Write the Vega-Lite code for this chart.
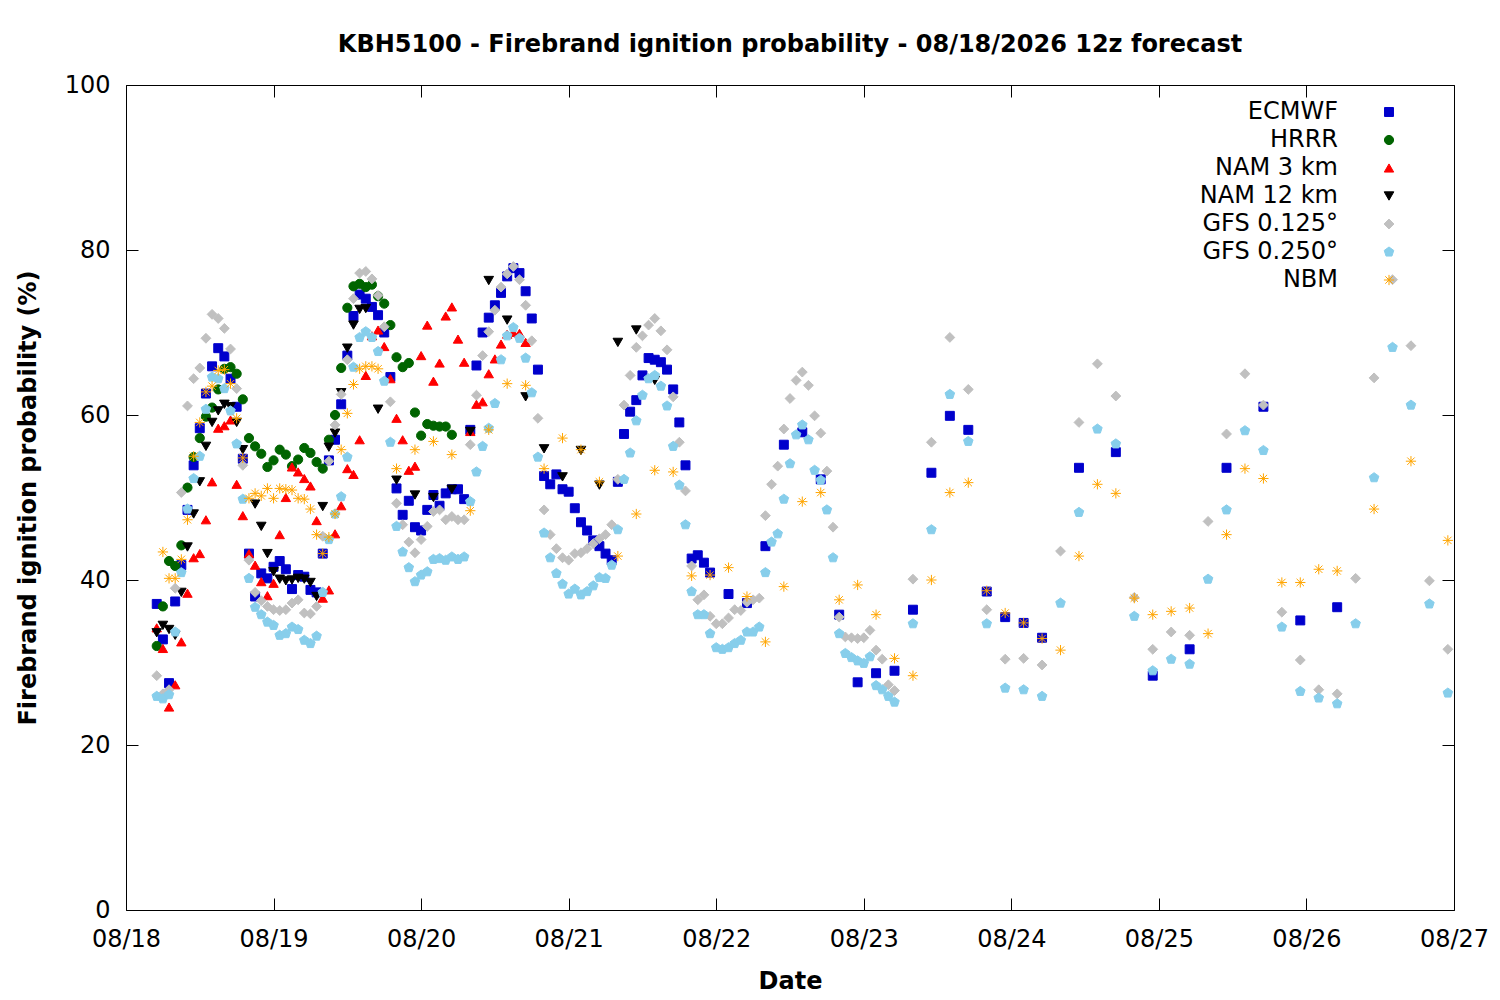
{
"$schema": "https://vega.github.io/schema/vega-lite/v6.json",
"width": 1328, "height": 825,
"autosize": {"type": "none"},
"padding": {"left": 126, "top": 85, "right": 46, "bottom": 90},
"background": "white",
"title": {"text": "KBH5100 - Firebrand ignition probability - 08/18/2026 12z forecast", "font": "DejaVu Sans", "fontSize": 24, "fontWeight": "bold", "color": "black", "anchor": "middle", "frame": "group", "offset": 16},
"datasets": {"pts": [
{"s":"ECMWF","h":5,"p":37.1},{"s":"ECMWF","h":6,"p":32.8},{"s":"ECMWF","h":7,"p":27.5},{"s":"ECMWF","h":8,"p":37.4},{"s":"ECMWF","h":9,"p":41.8},{"s":"ECMWF","h":10,"p":48.5},{"s":"ECMWF","h":11,"p":53.9},{"s":"ECMWF","h":12,"p":58.4},{"s":"ECMWF","h":13,"p":62.6},{"s":"ECMWF","h":14,"p":65.9},{"s":"ECMWF","h":15,"p":68.1},{"s":"ECMWF","h":16,"p":67.1},{"s":"ECMWF","h":17,"p":64.4},{"s":"ECMWF","h":18,"p":61},{"s":"ECMWF","h":19,"p":54.7},{"s":"ECMWF","h":20,"p":43.2},{"s":"ECMWF","h":21,"p":38},{"s":"ECMWF","h":22,"p":40.8},{"s":"ECMWF","h":23,"p":40.2},{"s":"ECMWF","h":24,"p":41.6},{"s":"ECMWF","h":25,"p":42.3},{"s":"ECMWF","h":26,"p":41.3},{"s":"ECMWF","h":27,"p":38.9},{"s":"ECMWF","h":28,"p":40.6},{"s":"ECMWF","h":29,"p":40.4},{"s":"ECMWF","h":30,"p":38.8},{"s":"ECMWF","h":31,"p":38.5},{"s":"ECMWF","h":32,"p":43.2},{"s":"ECMWF","h":33,"p":54.5},{"s":"ECMWF","h":34,"p":57},{"s":"ECMWF","h":35,"p":61.3},{"s":"ECMWF","h":36,"p":67.2},{"s":"ECMWF","h":37,"p":72},{"s":"ECMWF","h":38,"p":74.6},{"s":"ECMWF","h":39,"p":74.1},{"s":"ECMWF","h":40,"p":73.1},{"s":"ECMWF","h":41,"p":72.1},{"s":"ECMWF","h":42,"p":70},{"s":"ECMWF","h":43,"p":64.6},{"s":"ECMWF","h":44,"p":51.1},{"s":"ECMWF","h":45,"p":47.9},{"s":"ECMWF","h":46,"p":49.6},{"s":"ECMWF","h":47,"p":46.4},{"s":"ECMWF","h":48,"p":46},{"s":"ECMWF","h":49,"p":48.5},{"s":"ECMWF","h":50,"p":50.3},{"s":"ECMWF","h":51,"p":49},{"s":"ECMWF","h":52,"p":50.5},{"s":"ECMWF","h":53,"p":51},{"s":"ECMWF","h":54,"p":51},{"s":"ECMWF","h":55,"p":49.8},{"s":"ECMWF","h":56,"p":58.2},{"s":"ECMWF","h":57,"p":66},{"s":"ECMWF","h":58,"p":70},{"s":"ECMWF","h":59,"p":71.8},{"s":"ECMWF","h":60,"p":73.3},{"s":"ECMWF","h":61,"p":74.8},{"s":"ECMWF","h":62,"p":76.8},{"s":"ECMWF","h":63,"p":77.8},{"s":"ECMWF","h":64,"p":77.2},{"s":"ECMWF","h":65,"p":75},{"s":"ECMWF","h":66,"p":71.7},{"s":"ECMWF","h":67,"p":65.5},{"s":"ECMWF","h":68,"p":52.6},{"s":"ECMWF","h":69,"p":51.6},{"s":"ECMWF","h":70,"p":52.8},{"s":"ECMWF","h":71,"p":51},{"s":"ECMWF","h":72,"p":50.7},{"s":"ECMWF","h":73,"p":48.7},{"s":"ECMWF","h":74,"p":47},{"s":"ECMWF","h":75,"p":46},{"s":"ECMWF","h":76,"p":44.8},{"s":"ECMWF","h":77,"p":44.1},{"s":"ECMWF","h":78,"p":43.2},{"s":"ECMWF","h":79,"p":42.4},{"s":"ECMWF","h":80,"p":51.9},{"s":"ECMWF","h":81,"p":57.7},{"s":"ECMWF","h":82,"p":60.4},{"s":"ECMWF","h":83,"p":61.8},{"s":"ECMWF","h":84,"p":64.8},{"s":"ECMWF","h":85,"p":66.9},{"s":"ECMWF","h":86,"p":66.7},{"s":"ECMWF","h":87,"p":66.4},{"s":"ECMWF","h":88,"p":65.5},{"s":"ECMWF","h":89,"p":63.1},{"s":"ECMWF","h":90,"p":59.1},{"s":"ECMWF","h":91,"p":53.9},{"s":"ECMWF","h":92,"p":42.6},{"s":"ECMWF","h":93,"p":43},{"s":"ECMWF","h":94,"p":42.1},{"s":"ECMWF","h":95,"p":40.9},{"s":"ECMWF","h":98,"p":38.3},{"s":"ECMWF","h":101,"p":37.2},{"s":"ECMWF","h":104,"p":44.1},{"s":"ECMWF","h":107,"p":56.4},{"s":"ECMWF","h":110,"p":57.9},{"s":"ECMWF","h":113,"p":52.2},{"s":"ECMWF","h":116,"p":35.8},{"s":"ECMWF","h":119,"p":27.6},{"s":"ECMWF","h":122,"p":28.7},{"s":"ECMWF","h":125,"p":29},{"s":"ECMWF","h":128,"p":36.4},{"s":"ECMWF","h":131,"p":53},{"s":"ECMWF","h":134,"p":59.9},{"s":"ECMWF","h":137,"p":58.2},{"s":"ECMWF","h":140,"p":38.6},{"s":"ECMWF","h":143,"p":35.5},{"s":"ECMWF","h":146,"p":34.8},{"s":"ECMWF","h":149,"p":33},{"s":"ECMWF","h":155,"p":53.6},{"s":"ECMWF","h":161,"p":55.5},{"s":"ECMWF","h":167,"p":28.4},{"s":"ECMWF","h":173,"p":31.6},{"s":"ECMWF","h":179,"p":53.6},{"s":"ECMWF","h":185,"p":61},{"s":"ECMWF","h":191,"p":35.1},{"s":"ECMWF","h":197,"p":36.7},
{"s":"HRRR","h":5,"p":32},{"s":"HRRR","h":6,"p":36.8},{"s":"HRRR","h":7,"p":42.3},{"s":"HRRR","h":8,"p":41.7},{"s":"HRRR","h":9,"p":44.2},{"s":"HRRR","h":10,"p":51.2},{"s":"HRRR","h":11,"p":54.9},{"s":"HRRR","h":12,"p":57.2},{"s":"HRRR","h":13,"p":59.8},{"s":"HRRR","h":14,"p":60.9},{"s":"HRRR","h":15,"p":63.1},{"s":"HRRR","h":16,"p":65.6},{"s":"HRRR","h":17,"p":65.8},{"s":"HRRR","h":18,"p":65},{"s":"HRRR","h":19,"p":61.9},{"s":"HRRR","h":20,"p":57.2},{"s":"HRRR","h":21,"p":56.2},{"s":"HRRR","h":22,"p":55.3},{"s":"HRRR","h":23,"p":53.7},{"s":"HRRR","h":24,"p":54.5},{"s":"HRRR","h":25,"p":55.8},{"s":"HRRR","h":26,"p":55.2},{"s":"HRRR","h":27,"p":53.8},{"s":"HRRR","h":28,"p":54.6},{"s":"HRRR","h":29,"p":56},{"s":"HRRR","h":30,"p":55.4},{"s":"HRRR","h":31,"p":54.3},{"s":"HRRR","h":32,"p":53.5},{"s":"HRRR","h":33,"p":57},{"s":"HRRR","h":34,"p":60},{"s":"HRRR","h":35,"p":65.7},{"s":"HRRR","h":36,"p":73},{"s":"HRRR","h":37,"p":75.6},{"s":"HRRR","h":38,"p":75.9},{"s":"HRRR","h":39,"p":75.5},{"s":"HRRR","h":40,"p":75.8},{"s":"HRRR","h":41,"p":74.4},{"s":"HRRR","h":42,"p":73.5},{"s":"HRRR","h":43,"p":70.9},{"s":"HRRR","h":44,"p":67},{"s":"HRRR","h":45,"p":65.8},{"s":"HRRR","h":46,"p":66.3},{"s":"HRRR","h":47,"p":60.3},{"s":"HRRR","h":48,"p":57.5},{"s":"HRRR","h":49,"p":58.9},{"s":"HRRR","h":50,"p":58.7},{"s":"HRRR","h":51,"p":58.6},{"s":"HRRR","h":52,"p":58.6},{"s":"HRRR","h":53,"p":57.6},
{"s":"NAM 3 km","h":5,"p":34.2},{"s":"NAM 3 km","h":6,"p":31.7},{"s":"NAM 3 km","h":7,"p":24.6},{"s":"NAM 3 km","h":8,"p":27.3},{"s":"NAM 3 km","h":9,"p":32.5},{"s":"NAM 3 km","h":10,"p":38.4},{"s":"NAM 3 km","h":11,"p":42.7},{"s":"NAM 3 km","h":12,"p":43.2},{"s":"NAM 3 km","h":13,"p":47.3},{"s":"NAM 3 km","h":14,"p":51.9},{"s":"NAM 3 km","h":15,"p":58.4},{"s":"NAM 3 km","h":16,"p":58.7},{"s":"NAM 3 km","h":17,"p":59.4},{"s":"NAM 3 km","h":18,"p":51.6},{"s":"NAM 3 km","h":19,"p":47.8},{"s":"NAM 3 km","h":20,"p":43.2},{"s":"NAM 3 km","h":21,"p":41.8},{"s":"NAM 3 km","h":22,"p":39.8},{"s":"NAM 3 km","h":23,"p":38.1},{"s":"NAM 3 km","h":24,"p":39.6},{"s":"NAM 3 km","h":25,"p":45.5},{"s":"NAM 3 km","h":26,"p":50},{"s":"NAM 3 km","h":27,"p":53.7},{"s":"NAM 3 km","h":28,"p":53.1},{"s":"NAM 3 km","h":29,"p":52.3},{"s":"NAM 3 km","h":30,"p":51.4},{"s":"NAM 3 km","h":31,"p":47.2},{"s":"NAM 3 km","h":32,"p":37.8},{"s":"NAM 3 km","h":33,"p":38.8},{"s":"NAM 3 km","h":34,"p":45.6},{"s":"NAM 3 km","h":35,"p":49},{"s":"NAM 3 km","h":36,"p":53.5},{"s":"NAM 3 km","h":37,"p":52.8},{"s":"NAM 3 km","h":38,"p":57},{"s":"NAM 3 km","h":39,"p":64.8},{"s":"NAM 3 km","h":40,"p":69.6},{"s":"NAM 3 km","h":41,"p":70.3},{"s":"NAM 3 km","h":42,"p":68.3},{"s":"NAM 3 km","h":43,"p":64.4},{"s":"NAM 3 km","h":44,"p":59.6},{"s":"NAM 3 km","h":45,"p":57},{"s":"NAM 3 km","h":46,"p":53.3},{"s":"NAM 3 km","h":47,"p":53.8},{"s":"NAM 3 km","h":48,"p":67.2},{"s":"NAM 3 km","h":49,"p":70.9},{"s":"NAM 3 km","h":50,"p":64.1},{"s":"NAM 3 km","h":51,"p":66.3},{"s":"NAM 3 km","h":52,"p":72},{"s":"NAM 3 km","h":53,"p":73.1},{"s":"NAM 3 km","h":54,"p":69.2},{"s":"NAM 3 km","h":55,"p":66.4},{"s":"NAM 3 km","h":56,"p":58},{"s":"NAM 3 km","h":57,"p":61.3},{"s":"NAM 3 km","h":58,"p":61.6},{"s":"NAM 3 km","h":59,"p":65},{"s":"NAM 3 km","h":60,"p":66.8},{"s":"NAM 3 km","h":61,"p":68.6},{"s":"NAM 3 km","h":62,"p":69.8},{"s":"NAM 3 km","h":63,"p":70},{"s":"NAM 3 km","h":64,"p":69.9},{"s":"NAM 3 km","h":65,"p":68.8},
{"s":"NAM 12 km","h":5,"p":33.6},{"s":"NAM 12 km","h":6,"p":34.5},{"s":"NAM 12 km","h":7,"p":34},{"s":"NAM 12 km","h":8,"p":33.3},{"s":"NAM 12 km","h":9,"p":38.5},{"s":"NAM 12 km","h":10,"p":44},{"s":"NAM 12 km","h":11,"p":48},{"s":"NAM 12 km","h":12,"p":51.9},{"s":"NAM 12 km","h":13,"p":56.2},{"s":"NAM 12 km","h":14,"p":59.1},{"s":"NAM 12 km","h":15,"p":60.5},{"s":"NAM 12 km","h":16,"p":61.3},{"s":"NAM 12 km","h":17,"p":61},{"s":"NAM 12 km","h":18,"p":59.1},{"s":"NAM 12 km","h":19,"p":55.8},{"s":"NAM 12 km","h":21,"p":49.2},{"s":"NAM 12 km","h":22,"p":46.5},{"s":"NAM 12 km","h":23,"p":43.2},{"s":"NAM 12 km","h":24,"p":41},{"s":"NAM 12 km","h":25,"p":40.1},{"s":"NAM 12 km","h":26,"p":39.9},{"s":"NAM 12 km","h":27,"p":40},{"s":"NAM 12 km","h":28,"p":40.2},{"s":"NAM 12 km","h":29,"p":40.1},{"s":"NAM 12 km","h":30,"p":39.7},{"s":"NAM 12 km","h":31,"p":38},{"s":"NAM 12 km","h":32,"p":48.9},{"s":"NAM 12 km","h":33,"p":56.1},{"s":"NAM 12 km","h":34,"p":57.8},{"s":"NAM 12 km","h":35,"p":62.7},{"s":"NAM 12 km","h":36,"p":68.1},{"s":"NAM 12 km","h":37,"p":70.9},{"s":"NAM 12 km","h":38,"p":72.8},{"s":"NAM 12 km","h":39,"p":72.9},{"s":"NAM 12 km","h":41,"p":60.7},{"s":"NAM 12 km","h":44,"p":52.1},{"s":"NAM 12 km","h":47,"p":50.3},{"s":"NAM 12 km","h":50,"p":50},{"s":"NAM 12 km","h":53,"p":51},{"s":"NAM 12 km","h":56,"p":58},{"s":"NAM 12 km","h":59,"p":76.3},{"s":"NAM 12 km","h":62,"p":71.5},{"s":"NAM 12 km","h":65,"p":62.2},{"s":"NAM 12 km","h":68,"p":55.9},{"s":"NAM 12 km","h":71,"p":52.5},{"s":"NAM 12 km","h":74,"p":55.7},{"s":"NAM 12 km","h":77,"p":51.5},{"s":"NAM 12 km","h":80,"p":68.8},{"s":"NAM 12 km","h":83,"p":70.3},{"s":"NAM 12 km","h":86,"p":64.2},
{"s":"GFS 0.125°","h":5,"p":28.4},{"s":"GFS 0.125°","h":6,"p":26.2},{"s":"GFS 0.125°","h":7,"p":26.7},{"s":"GFS 0.125°","h":8,"p":39},{"s":"GFS 0.125°","h":9,"p":50.6},{"s":"GFS 0.125°","h":10,"p":61.1},{"s":"GFS 0.125°","h":11,"p":64.4},{"s":"GFS 0.125°","h":12,"p":65.7},{"s":"GFS 0.125°","h":13,"p":69.3},{"s":"GFS 0.125°","h":14,"p":72.2},{"s":"GFS 0.125°","h":15,"p":71.7},{"s":"GFS 0.125°","h":16,"p":70.5},{"s":"GFS 0.125°","h":17,"p":68},{"s":"GFS 0.125°","h":18,"p":63.2},{"s":"GFS 0.125°","h":19,"p":53.9},{"s":"GFS 0.125°","h":20,"p":42.4},{"s":"GFS 0.125°","h":21,"p":38.5},{"s":"GFS 0.125°","h":22,"p":37.5},{"s":"GFS 0.125°","h":23,"p":36.8},{"s":"GFS 0.125°","h":24,"p":36.4},{"s":"GFS 0.125°","h":25,"p":36.3},{"s":"GFS 0.125°","h":26,"p":36.4},{"s":"GFS 0.125°","h":27,"p":37.2},{"s":"GFS 0.125°","h":28,"p":37.6},{"s":"GFS 0.125°","h":29,"p":36},{"s":"GFS 0.125°","h":30,"p":35.9},{"s":"GFS 0.125°","h":31,"p":36.8},{"s":"GFS 0.125°","h":32,"p":45.3},{"s":"GFS 0.125°","h":33,"p":54.4},{"s":"GFS 0.125°","h":34,"p":58.8},{"s":"GFS 0.125°","h":35,"p":62.5},{"s":"GFS 0.125°","h":36,"p":66.7},{"s":"GFS 0.125°","h":37,"p":74.1},{"s":"GFS 0.125°","h":38,"p":77.2},{"s":"GFS 0.125°","h":39,"p":77.4},{"s":"GFS 0.125°","h":40,"p":76.5},{"s":"GFS 0.125°","h":41,"p":74.5},{"s":"GFS 0.125°","h":42,"p":70.7},{"s":"GFS 0.125°","h":43,"p":61.6},{"s":"GFS 0.125°","h":44,"p":49.3},{"s":"GFS 0.125°","h":45,"p":46.7},{"s":"GFS 0.125°","h":46,"p":44.6},{"s":"GFS 0.125°","h":47,"p":43.3},{"s":"GFS 0.125°","h":48,"p":44.9},{"s":"GFS 0.125°","h":49,"p":46.5},{"s":"GFS 0.125°","h":50,"p":48.3},{"s":"GFS 0.125°","h":51,"p":48.5},{"s":"GFS 0.125°","h":52,"p":47.3},{"s":"GFS 0.125°","h":53,"p":47.7},{"s":"GFS 0.125°","h":54,"p":47.3},{"s":"GFS 0.125°","h":55,"p":47.3},{"s":"GFS 0.125°","h":56,"p":56.4},{"s":"GFS 0.125°","h":57,"p":62.4},{"s":"GFS 0.125°","h":58,"p":67.2},{"s":"GFS 0.125°","h":59,"p":70.1},{"s":"GFS 0.125°","h":60,"p":72.7},{"s":"GFS 0.125°","h":61,"p":75.5},{"s":"GFS 0.125°","h":62,"p":77.1},{"s":"GFS 0.125°","h":63,"p":78},{"s":"GFS 0.125°","h":64,"p":76.4},{"s":"GFS 0.125°","h":65,"p":73.3},{"s":"GFS 0.125°","h":66,"p":69},{"s":"GFS 0.125°","h":67,"p":59.6},{"s":"GFS 0.125°","h":68,"p":48.5},{"s":"GFS 0.125°","h":69,"p":45.5},{"s":"GFS 0.125°","h":70,"p":43.8},{"s":"GFS 0.125°","h":71,"p":42.7},{"s":"GFS 0.125°","h":72,"p":42.4},{"s":"GFS 0.125°","h":73,"p":43.2},{"s":"GFS 0.125°","h":74,"p":43.3},{"s":"GFS 0.125°","h":75,"p":43.8},{"s":"GFS 0.125°","h":76,"p":44.4},{"s":"GFS 0.125°","h":77,"p":45},{"s":"GFS 0.125°","h":78,"p":45.5},{"s":"GFS 0.125°","h":79,"p":46.7},{"s":"GFS 0.125°","h":80,"p":52.2},{"s":"GFS 0.125°","h":81,"p":61.2},{"s":"GFS 0.125°","h":82,"p":64.8},{"s":"GFS 0.125°","h":83,"p":68.2},{"s":"GFS 0.125°","h":84,"p":69.6},{"s":"GFS 0.125°","h":85,"p":70.9},{"s":"GFS 0.125°","h":86,"p":71.7},{"s":"GFS 0.125°","h":87,"p":70.2},{"s":"GFS 0.125°","h":88,"p":67.9},{"s":"GFS 0.125°","h":89,"p":62.2},{"s":"GFS 0.125°","h":90,"p":56.7},{"s":"GFS 0.125°","h":91,"p":50.8},{"s":"GFS 0.125°","h":92,"p":41.7},{"s":"GFS 0.125°","h":93,"p":37.6},{"s":"GFS 0.125°","h":94,"p":38.2},{"s":"GFS 0.125°","h":95,"p":35.6},{"s":"GFS 0.125°","h":96,"p":34.7},{"s":"GFS 0.125°","h":97,"p":34.7},{"s":"GFS 0.125°","h":98,"p":35.4},{"s":"GFS 0.125°","h":99,"p":36.4},{"s":"GFS 0.125°","h":100,"p":36.3},{"s":"GFS 0.125°","h":101,"p":37.3},{"s":"GFS 0.125°","h":102,"p":37.6},{"s":"GFS 0.125°","h":103,"p":37.8},{"s":"GFS 0.125°","h":104,"p":47.8},{"s":"GFS 0.125°","h":105,"p":51.6},{"s":"GFS 0.125°","h":106,"p":53.8},{"s":"GFS 0.125°","h":107,"p":58.3},{"s":"GFS 0.125°","h":108,"p":62},{"s":"GFS 0.125°","h":109,"p":64.2},{"s":"GFS 0.125°","h":110,"p":65.2},{"s":"GFS 0.125°","h":111,"p":63.6},{"s":"GFS 0.125°","h":112,"p":59.9},{"s":"GFS 0.125°","h":113,"p":57.8},{"s":"GFS 0.125°","h":114,"p":53.2},{"s":"GFS 0.125°","h":115,"p":46.4},{"s":"GFS 0.125°","h":116,"p":35.5},{"s":"GFS 0.125°","h":117,"p":33.1},{"s":"GFS 0.125°","h":118,"p":33},{"s":"GFS 0.125°","h":119,"p":32.9},{"s":"GFS 0.125°","h":120,"p":33},{"s":"GFS 0.125°","h":121,"p":33.9},{"s":"GFS 0.125°","h":122,"p":31.5},{"s":"GFS 0.125°","h":123,"p":30.4},{"s":"GFS 0.125°","h":124,"p":27.3},{"s":"GFS 0.125°","h":125,"p":26.6},{"s":"GFS 0.125°","h":128,"p":40.1},{"s":"GFS 0.125°","h":131,"p":56.7},{"s":"GFS 0.125°","h":134,"p":69.4},{"s":"GFS 0.125°","h":137,"p":63.1},{"s":"GFS 0.125°","h":140,"p":36.4},{"s":"GFS 0.125°","h":143,"p":30.4},{"s":"GFS 0.125°","h":146,"p":30.5},{"s":"GFS 0.125°","h":149,"p":29.7},{"s":"GFS 0.125°","h":152,"p":43.5},{"s":"GFS 0.125°","h":155,"p":59.1},{"s":"GFS 0.125°","h":158,"p":66.2},{"s":"GFS 0.125°","h":161,"p":62.3},{"s":"GFS 0.125°","h":164,"p":37.9},{"s":"GFS 0.125°","h":167,"p":31.6},{"s":"GFS 0.125°","h":170,"p":33.7},{"s":"GFS 0.125°","h":173,"p":33.3},{"s":"GFS 0.125°","h":176,"p":47.1},{"s":"GFS 0.125°","h":179,"p":57.7},{"s":"GFS 0.125°","h":182,"p":65},{"s":"GFS 0.125°","h":185,"p":61.2},{"s":"GFS 0.125°","h":188,"p":36.1},{"s":"GFS 0.125°","h":191,"p":30.3},{"s":"GFS 0.125°","h":194,"p":26.7},{"s":"GFS 0.125°","h":197,"p":26.2},{"s":"GFS 0.125°","h":200,"p":40.2},{"s":"GFS 0.125°","h":203,"p":64.5},{"s":"GFS 0.125°","h":206,"p":76.4},{"s":"GFS 0.125°","h":209,"p":68.4},{"s":"GFS 0.125°","h":212,"p":39.9},{"s":"GFS 0.125°","h":215,"p":31.6},
{"s":"GFS 0.250°","h":5,"p":25.9},{"s":"GFS 0.250°","h":6,"p":25.6},{"s":"GFS 0.250°","h":7,"p":26.1},{"s":"GFS 0.250°","h":8,"p":33.7},{"s":"GFS 0.250°","h":9,"p":40.9},{"s":"GFS 0.250°","h":10,"p":48.6},{"s":"GFS 0.250°","h":11,"p":52.3},{"s":"GFS 0.250°","h":12,"p":55},{"s":"GFS 0.250°","h":13,"p":60.7},{"s":"GFS 0.250°","h":14,"p":64.6},{"s":"GFS 0.250°","h":15,"p":64.4},{"s":"GFS 0.250°","h":16,"p":63.2},{"s":"GFS 0.250°","h":17,"p":60.5},{"s":"GFS 0.250°","h":18,"p":56.5},{"s":"GFS 0.250°","h":19,"p":49.8},{"s":"GFS 0.250°","h":20,"p":40.2},{"s":"GFS 0.250°","h":21,"p":36.7},{"s":"GFS 0.250°","h":22,"p":35.8},{"s":"GFS 0.250°","h":23,"p":34.9},{"s":"GFS 0.250°","h":24,"p":34.5},{"s":"GFS 0.250°","h":25,"p":33.3},{"s":"GFS 0.250°","h":26,"p":33.5},{"s":"GFS 0.250°","h":27,"p":34.3},{"s":"GFS 0.250°","h":28,"p":34},{"s":"GFS 0.250°","h":29,"p":32.7},{"s":"GFS 0.250°","h":30,"p":32.3},{"s":"GFS 0.250°","h":31,"p":33.2},{"s":"GFS 0.250°","h":32,"p":38.5},{"s":"GFS 0.250°","h":33,"p":44.9},{"s":"GFS 0.250°","h":34,"p":48},{"s":"GFS 0.250°","h":35,"p":50.1},{"s":"GFS 0.250°","h":36,"p":54.9},{"s":"GFS 0.250°","h":37,"p":65.8},{"s":"GFS 0.250°","h":38,"p":69.4},{"s":"GFS 0.250°","h":39,"p":70.1},{"s":"GFS 0.250°","h":40,"p":69.4},{"s":"GFS 0.250°","h":41,"p":67.7},{"s":"GFS 0.250°","h":42,"p":64.1},{"s":"GFS 0.250°","h":43,"p":56.7},{"s":"GFS 0.250°","h":44,"p":46.5},{"s":"GFS 0.250°","h":45,"p":43.4},{"s":"GFS 0.250°","h":46,"p":41.5},{"s":"GFS 0.250°","h":47,"p":39.8},{"s":"GFS 0.250°","h":48,"p":40.6},{"s":"GFS 0.250°","h":49,"p":41},{"s":"GFS 0.250°","h":50,"p":42.5},{"s":"GFS 0.250°","h":51,"p":42.6},{"s":"GFS 0.250°","h":52,"p":42.4},{"s":"GFS 0.250°","h":53,"p":42.8},{"s":"GFS 0.250°","h":54,"p":42.5},{"s":"GFS 0.250°","h":55,"p":42.8},{"s":"GFS 0.250°","h":56,"p":49.5},{"s":"GFS 0.250°","h":57,"p":53.1},{"s":"GFS 0.250°","h":58,"p":56.2},{"s":"GFS 0.250°","h":59,"p":58.4},{"s":"GFS 0.250°","h":60,"p":61.4},{"s":"GFS 0.250°","h":61,"p":66.7},{"s":"GFS 0.250°","h":62,"p":69.6},{"s":"GFS 0.250°","h":63,"p":70.6},{"s":"GFS 0.250°","h":64,"p":69.3},{"s":"GFS 0.250°","h":65,"p":66.9},{"s":"GFS 0.250°","h":66,"p":62.7},{"s":"GFS 0.250°","h":67,"p":54.9},{"s":"GFS 0.250°","h":68,"p":45.7},{"s":"GFS 0.250°","h":69,"p":42.7},{"s":"GFS 0.250°","h":70,"p":40.8},{"s":"GFS 0.250°","h":71,"p":39.5},{"s":"GFS 0.250°","h":72,"p":38.3},{"s":"GFS 0.250°","h":73,"p":38.9},{"s":"GFS 0.250°","h":74,"p":38.2},{"s":"GFS 0.250°","h":75,"p":38.6},{"s":"GFS 0.250°","h":76,"p":39.3},{"s":"GFS 0.250°","h":77,"p":40.3},{"s":"GFS 0.250°","h":78,"p":40.2},{"s":"GFS 0.250°","h":79,"p":41.8},{"s":"GFS 0.250°","h":80,"p":46.1},{"s":"GFS 0.250°","h":81,"p":52.2},{"s":"GFS 0.250°","h":82,"p":55.4},{"s":"GFS 0.250°","h":83,"p":59.3},{"s":"GFS 0.250°","h":84,"p":62.4},{"s":"GFS 0.250°","h":85,"p":64.4},{"s":"GFS 0.250°","h":86,"p":64.8},{"s":"GFS 0.250°","h":87,"p":63.5},{"s":"GFS 0.250°","h":88,"p":61.1},{"s":"GFS 0.250°","h":89,"p":56.2},{"s":"GFS 0.250°","h":90,"p":51.5},{"s":"GFS 0.250°","h":91,"p":46.7},{"s":"GFS 0.250°","h":92,"p":38.6},{"s":"GFS 0.250°","h":93,"p":35.8},{"s":"GFS 0.250°","h":94,"p":35.8},{"s":"GFS 0.250°","h":95,"p":33.5},{"s":"GFS 0.250°","h":96,"p":31.8},{"s":"GFS 0.250°","h":97,"p":31.6},{"s":"GFS 0.250°","h":98,"p":31.8},{"s":"GFS 0.250°","h":99,"p":32.3},{"s":"GFS 0.250°","h":100,"p":32.7},{"s":"GFS 0.250°","h":101,"p":33.7},{"s":"GFS 0.250°","h":102,"p":33.7},{"s":"GFS 0.250°","h":103,"p":34.3},{"s":"GFS 0.250°","h":104,"p":40.9},{"s":"GFS 0.250°","h":105,"p":44.6},{"s":"GFS 0.250°","h":106,"p":45.6},{"s":"GFS 0.250°","h":107,"p":49.8},{"s":"GFS 0.250°","h":108,"p":54.1},{"s":"GFS 0.250°","h":109,"p":57.6},{"s":"GFS 0.250°","h":110,"p":58.8},{"s":"GFS 0.250°","h":111,"p":57},{"s":"GFS 0.250°","h":112,"p":53.3},{"s":"GFS 0.250°","h":113,"p":52.1},{"s":"GFS 0.250°","h":114,"p":48.5},{"s":"GFS 0.250°","h":115,"p":42.7},{"s":"GFS 0.250°","h":116,"p":33.5},{"s":"GFS 0.250°","h":117,"p":31.1},{"s":"GFS 0.250°","h":118,"p":30.6},{"s":"GFS 0.250°","h":119,"p":30.2},{"s":"GFS 0.250°","h":120,"p":29.9},{"s":"GFS 0.250°","h":121,"p":30.7},{"s":"GFS 0.250°","h":122,"p":27.2},{"s":"GFS 0.250°","h":123,"p":26.7},{"s":"GFS 0.250°","h":124,"p":25.9},{"s":"GFS 0.250°","h":125,"p":25.2},{"s":"GFS 0.250°","h":128,"p":34.7},{"s":"GFS 0.250°","h":131,"p":46.1},{"s":"GFS 0.250°","h":134,"p":62.5},{"s":"GFS 0.250°","h":137,"p":56.8},{"s":"GFS 0.250°","h":140,"p":34.7},{"s":"GFS 0.250°","h":143,"p":26.9},{"s":"GFS 0.250°","h":146,"p":26.7},{"s":"GFS 0.250°","h":149,"p":25.9},{"s":"GFS 0.250°","h":152,"p":37.2},{"s":"GFS 0.250°","h":155,"p":48.2},{"s":"GFS 0.250°","h":158,"p":58.3},{"s":"GFS 0.250°","h":161,"p":56.5},{"s":"GFS 0.250°","h":164,"p":35.6},{"s":"GFS 0.250°","h":167,"p":29},{"s":"GFS 0.250°","h":170,"p":30.4},{"s":"GFS 0.250°","h":173,"p":29.8},{"s":"GFS 0.250°","h":176,"p":40.1},{"s":"GFS 0.250°","h":179,"p":48.5},{"s":"GFS 0.250°","h":182,"p":58.1},{"s":"GFS 0.250°","h":185,"p":55.7},{"s":"GFS 0.250°","h":188,"p":34.3},{"s":"GFS 0.250°","h":191,"p":26.5},{"s":"GFS 0.250°","h":194,"p":25.7},{"s":"GFS 0.250°","h":197,"p":25},{"s":"GFS 0.250°","h":200,"p":34.7},{"s":"GFS 0.250°","h":203,"p":52.4},{"s":"GFS 0.250°","h":206,"p":68.2},{"s":"GFS 0.250°","h":209,"p":61.2},{"s":"GFS 0.250°","h":212,"p":37.1},{"s":"GFS 0.250°","h":215,"p":26.3},
{"s":"NBM","h":6,"p":43.4},{"s":"NBM","h":7,"p":40.2},{"s":"NBM","h":8,"p":40.2},{"s":"NBM","h":9,"p":42.5},{"s":"NBM","h":10,"p":47.3},{"s":"NBM","h":11,"p":55},{"s":"NBM","h":12,"p":59.1},{"s":"NBM","h":13,"p":62.8},{"s":"NBM","h":14,"p":63.5},{"s":"NBM","h":15,"p":65.4},{"s":"NBM","h":16,"p":65.5},{"s":"NBM","h":17,"p":63.8},{"s":"NBM","h":18,"p":59.6},{"s":"NBM","h":19,"p":54.8},{"s":"NBM","h":20,"p":49.9},{"s":"NBM","h":21,"p":50.5},{"s":"NBM","h":22,"p":50.2},{"s":"NBM","h":23,"p":51.1},{"s":"NBM","h":24,"p":49.9},{"s":"NBM","h":25,"p":51.1},{"s":"NBM","h":26,"p":51},{"s":"NBM","h":27,"p":50.9},{"s":"NBM","h":28,"p":49.9},{"s":"NBM","h":29,"p":49.8},{"s":"NBM","h":30,"p":48.6},{"s":"NBM","h":31,"p":45.5},{"s":"NBM","h":32,"p":43.2},{"s":"NBM","h":33,"p":45.2},{"s":"NBM","h":34,"p":48},{"s":"NBM","h":35,"p":55.8},{"s":"NBM","h":36,"p":60.2},{"s":"NBM","h":37,"p":63.7},{"s":"NBM","h":38,"p":65.6},{"s":"NBM","h":39,"p":65.9},{"s":"NBM","h":40,"p":65.9},{"s":"NBM","h":41,"p":65.6},{"s":"NBM","h":44,"p":53.5},{"s":"NBM","h":47,"p":55.8},{"s":"NBM","h":50,"p":56.8},{"s":"NBM","h":53,"p":55.2},{"s":"NBM","h":56,"p":48.4},{"s":"NBM","h":59,"p":58.2},{"s":"NBM","h":62,"p":63.8},{"s":"NBM","h":65,"p":63.6},{"s":"NBM","h":68,"p":53.5},{"s":"NBM","h":71,"p":57.2},{"s":"NBM","h":74,"p":55.8},{"s":"NBM","h":77,"p":51.9},{"s":"NBM","h":80,"p":42.9},{"s":"NBM","h":83,"p":48},{"s":"NBM","h":86,"p":53.3},{"s":"NBM","h":89,"p":53.1},{"s":"NBM","h":92,"p":40.5},{"s":"NBM","h":95,"p":40.6},{"s":"NBM","h":98,"p":41.5},{"s":"NBM","h":101,"p":38},{"s":"NBM","h":104,"p":32.5},{"s":"NBM","h":107,"p":39.2},{"s":"NBM","h":110,"p":49.5},{"s":"NBM","h":113,"p":50.6},{"s":"NBM","h":116,"p":37.6},{"s":"NBM","h":119,"p":39.4},{"s":"NBM","h":122,"p":35.8},{"s":"NBM","h":125,"p":30.5},{"s":"NBM","h":128,"p":28.4},{"s":"NBM","h":131,"p":40},{"s":"NBM","h":134,"p":50.6},{"s":"NBM","h":137,"p":51.8},{"s":"NBM","h":140,"p":38.7},{"s":"NBM","h":143,"p":36},{"s":"NBM","h":146,"p":34.8},{"s":"NBM","h":149,"p":32.9},{"s":"NBM","h":152,"p":31.5},{"s":"NBM","h":155,"p":42.9},{"s":"NBM","h":158,"p":51.6},{"s":"NBM","h":161,"p":50.5},{"s":"NBM","h":164,"p":37.8},{"s":"NBM","h":167,"p":35.8},{"s":"NBM","h":170,"p":36.2},{"s":"NBM","h":173,"p":36.6},{"s":"NBM","h":176,"p":33.5},{"s":"NBM","h":179,"p":45.5},{"s":"NBM","h":182,"p":53.5},{"s":"NBM","h":185,"p":52.3},{"s":"NBM","h":188,"p":39.7},{"s":"NBM","h":191,"p":39.7},{"s":"NBM","h":194,"p":41.3},{"s":"NBM","h":197,"p":41.1},{"s":"NBM","h":203,"p":48.6},{"s":"NBM","h":209,"p":54.4},{"s":"NBM","h":215,"p":44.8}
]},
"data": {"name": "pts"},
"layer": [
 {
  "mark": {"type": "point", "opacity": 1, "strokeWidth": 1},
  "encoding": {
   "x": {"field": "h", "type": "quantitative", "scale": {"domain": [0, 216], "nice": false, "zero": false},
         "axis": {"orient": "bottom", "title": "Date", "values": [0,24,48,72,96,120,144,168,192,216], "labelExpr": "timeFormat(datetime(2026, 7, 18 + datum.value / 24), '%m/%d')", "labelPadding": 29, "titlePadding": 18}},
   "y": {"field": "p", "type": "quantitative", "scale": {"domain": [0, 100], "nice": false},
         "axis": {"orient": "left", "title": "Firebrand ignition probability (%)", "values": [0,20,40,60,80,100], "labelPadding": 28, "titlePadding": 24}},
   "shape": {"field": "s", "type": "nominal", "legend": {"title": null},
     "scale": {"domain": ["ECMWF","HRRR","NAM 3 km","NAM 12 km","GFS 0.125°","GFS 0.250°","NBM"],
       "range": ["square","circle","triangle-up","triangle-down","diamond","M0,-1L0.951,-0.309L0.588,0.809L-0.588,0.809L-0.951,-0.309Z","M-1,0L1,0M0,-1L0,1M-0.72,-0.72L0.72,0.72M-0.72,0.72L0.72,-0.72"]}},
   "fill": {"field": "s", "type": "nominal", "legend": {"title": null},
     "scale": {"domain": ["ECMWF","HRRR","NAM 3 km","NAM 12 km","GFS 0.125°","GFS 0.250°","NBM"],
       "range": ["#0000CC","#006400","#FF0000","#000000","#C0C0C0","#87CEEB","transparent"]}},
   "stroke": {"field": "s", "type": "nominal", "legend": {"title": null},
     "scale": {"domain": ["ECMWF","HRRR","NAM 3 km","NAM 12 km","GFS 0.125°","GFS 0.250°","NBM"],
       "range": ["#0000CC","#006400","#FF0000","#000000","#C0C0C0","#87CEEB","#FFA500"]}},
   "size": {"field": "s", "type": "nominal", "legend": {"title": null},
     "scale": {"domain": ["ECMWF","HRRR","NAM 3 km","NAM 12 km","GFS 0.125°","GFS 0.250°","NBM"],
       "range": [80, 105, 130, 130, 95, 105, 170]}}
  }
 },
 {
  "mark": {"type": "point", "opacity": 0},
  "encoding": {
   "x": {"field": "h", "type": "quantitative", "axis": {"orient": "top", "title": null, "labels": false, "values": [0,24,48,72,96,120,144,168,192,216]}},
   "y": {"field": "p", "type": "quantitative", "axis": {"orient": "right", "title": null, "labels": false, "values": [0,20,40,60,80,100]}}
  }
 }
],
"resolve": {"axis": {"x": "independent", "y": "independent"}},
"config": {
 "view": {"stroke": "black", "strokeWidth": 1},
 "axis": {"grid": false, "domain": false, "tickColor": "black", "tickSize": -12, "tickWidth": 1, "labelFont": "DejaVu Sans", "labelFontSize": 24, "labelColor": "black", "titleFont": "DejaVu Sans", "titleFontSize": 24, "titleFontWeight": "bold", "titleColor": "black", "labelFlush": false, "labelOverlap": false},
 "legend": {"orient": "none", "legendX": 1251, "legendY": 15, "padding": 0, "labelFont": "DejaVu Sans", "labelFontSize": 24, "labelColor": "black", "labelAlign": "right", "labelOffset": -63, "rowPadding": 4, "symbolStrokeWidth": 1, "labelLimit": 300}
}
}
